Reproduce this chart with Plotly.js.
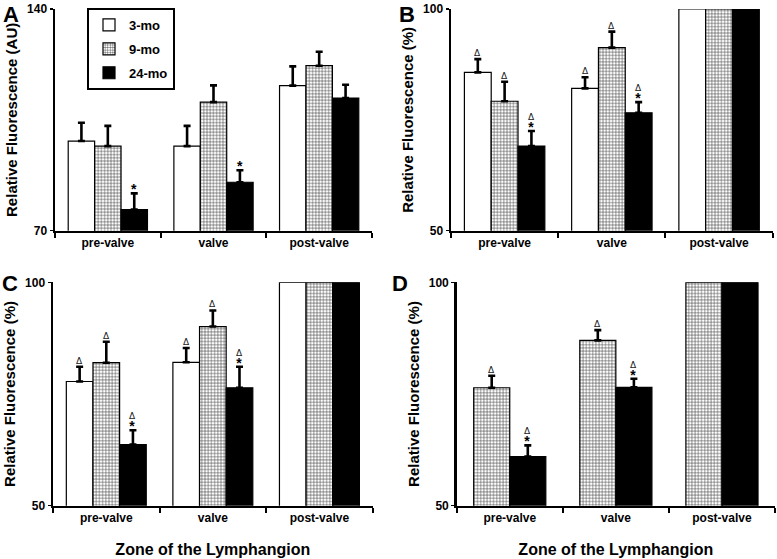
<!DOCTYPE html>
<html>
<head>
<meta charset="utf-8">
<script src="https://cdn.plot.ly/plotly-3.0.1.min.js"></script>
<style>html,body{margin:0;padding:0;background:#fff;}#chart{width:777px;height:559px;}</style>
</head>
<body>
<div id="chart"></div>
<script>
// ---------- data ----------
const zones = ['pre-valve', 'valve', 'post-valve'];
const ages = ['3-mo', '9-mo', '24-mo'];

// Panel A (AU)
const a3 = [98.3, 96.7, 115.8];
const a3err = [5.8, 6.4, 6.1];
const a9 = [96.7, 110.6, 122.1];
const a9err = [6.4, 5.3, 4.4];
const a24 = [76.7, 85.3, 111.9];
const a24err = [5.1, 3.8, 4.2];
const a3mark = ['', '', ''];
const a9mark = ['', '', ''];
const a24mark = ['*', '*', ''];

// Panel B (%)
const b3 = [85.7, 82.1, 100];
const b3err = [3.0, 2.5, null];
const b9 = [79.2, 91.3, 100];
const b9err = [4.4, 3.6, null];
const b24 = [69.1, 76.6, 100];
const b24err = [3.4, 2.4, null];
const b3mark = ['Δ', 'Δ', ''];
const b9mark = ['Δ', 'Δ', ''];
const b24mark = ['Δ*', 'Δ*', ''];

// Panel C (%)
const c3 = [77.8, 82.1, 100];
const c3err = [3.3, 3.2, null];
const c9 = [82.0, 90.1, 100];
const c9err = [4.7, 3.6, null];
const c24 = [63.7, 76.4, 100];
const c24err = [3.2, 4.7, null];
const c3mark = ['Δ', 'Δ', ''];
const c9mark = ['Δ', 'Δ', ''];
const c24mark = ['Δ*', 'Δ*', ''];

// Panel D (%)
const d9 = [76.4, 87.0, 100];
const d9err = [2.7, 2.3, null];
const d24 = [61.0, 76.5, 100];
const d24err = [2.5, 1.9, null];
const d9mark = ['Δ', 'Δ', ''];
const d24mark = ['Δ*', 'Δ*', ''];

// ---------- styles ----------
const FONT = 'Liberation Sans, Arial, sans-serif';
const DFONT = 'DejaVu Sans, sans-serif';
const outline = {color: 'black', width: 1.2};
const styles = {
  '3-mo': {color: 'white', line: outline},
  '9-mo': {color: 'white', line: outline,
           pattern: {shape: '+', size: 3.2, solidity: 0.3, fgcolor: '#3a3a3a', bgcolor: 'white', fillmode: 'replace'}},
  '24-mo': {color: 'black', line: outline}
};

const traces = [];
const annotations = [];

function addPanel(ax, series, showLegend) {
  const n = series.length;
  const w = n === 3 ? 0.25 : 0.34;
  const start = -w * n / 2;
  const sfx = ax === 1 ? '' : String(ax);
  series.forEach((s, k) => {
    const off = start + k * w;
    const errPlus = s.errs.map(v => (v === null ? NaN : v));
    const errMinus = s.errs.map(v => (v === null ? NaN : 0));
    traces.push({
      type: 'bar', name: s.name, x: zones, y: s.vals,
      xaxis: 'x' + sfx, yaxis: 'y' + sfx,
      offset: off, width: w,
      marker: styles[s.name],
      error_y: {type: 'data', symmetric: false, array: errPlus, arrayminus: errMinus,
                color: 'black', thickness: 2.6, width: 3.5},
      showlegend: showLegend, legendgroup: s.name,
      hoverinfo: 'skip'
    });
    s.marks.forEach((m, i) => {
      if (!m) return;
      const top = s.vals[i] + (s.errs[i] || 0);
      const xs = i + off + w / 2;
      const xref = 'x' + sfx, yref = 'y' + sfx;
      const hasStar = m.indexOf('*') >= 0;
      const hasDelta = m.indexOf('Δ') >= 0;
      if (hasStar && hasDelta) {
        annotations.push({x: xs, y: top, xref, yref, showarrow: false,
          text: 'Δ<br><span style="font-family:Liberation Sans, Arial, sans-serif;font-size:14px;font-weight:bold;color:black">*</span>',
          xanchor: 'center', yanchor: 'bottom', yshift: -6,
          font: {family: DFONT, size: 9, color: '#222'}});
      } else if (hasStar) {
        annotations.push({x: xs, y: top, xref, yref, text: '*', showarrow: false,
          xanchor: 'center', yanchor: 'bottom', yshift: -6,
          font: {family: FONT, size: 14, color: 'black', weight: 'bold'}});
      } else if (hasDelta) {
        annotations.push({x: xs, y: top, xref, yref, text: 'Δ', showarrow: false,
          xanchor: 'center', yanchor: 'bottom', yshift: -1,
          font: {family: DFONT, size: 9, color: '#222'}});
      }
    });
  });
}

addPanel(1, [
  {name: '3-mo', vals: a3, errs: a3err, marks: a3mark},
  {name: '9-mo', vals: a9, errs: a9err, marks: a9mark},
  {name: '24-mo', vals: a24, errs: a24err, marks: a24mark}], true);
addPanel(2, [
  {name: '3-mo', vals: b3, errs: b3err, marks: b3mark},
  {name: '9-mo', vals: b9, errs: b9err, marks: b9mark},
  {name: '24-mo', vals: b24, errs: b24err, marks: b24mark}], false);
addPanel(3, [
  {name: '3-mo', vals: c3, errs: c3err, marks: c3mark},
  {name: '9-mo', vals: c9, errs: c9err, marks: c9mark},
  {name: '24-mo', vals: c24, errs: c24err, marks: c24mark}], false);
addPanel(4, [
  {name: '9-mo', vals: d9, errs: d9err, marks: d9mark},
  {name: '24-mo', vals: d24, errs: d24err, marks: d24mark}], false);

// panel letters
[['A', 1, 0], ['B', 397, 0], ['C', 0, 269], ['D', 390, 269]].forEach(([t, px, py]) => {
  annotations.push({text: t, xref: 'paper', yref: 'paper', x: px / 777, y: 1 - py / 559,
    xanchor: 'left', yanchor: 'top', showarrow: false,
    font: {family: FONT, size: 22, color: 'black', weight: 'bold'}});
});

const W = 777, H = 559;
function xd(a, b) { return [a / W, b / W]; }
function yd(top, bot) { return [1 - bot / H, 1 - top / H]; }

function xaxis(domain, anchor, title) {
  const ax = {
    domain, anchor, type: 'category', categoryorder: 'array', categoryarray: zones,
    range: [-0.5, 2.5], showline: true, linecolor: 'black', linewidth: 2,
    ticks: 'outside', tickson: 'boundaries', ticklen: 5, tickwidth: 2, tickcolor: 'black',
    showgrid: false, zeroline: false, automargin: false, fixedrange: true,
    tickfont: {family: FONT, size: 12, color: 'black', weight: 'bold'}
  };
  if (title) ax.title = {text: title, standoff: 20, font: {family: FONT, size: 16, color: 'black', weight: 'bold'}};
  return ax;
}
function yaxis(domain, anchor, range, title) {
  return {
    domain, anchor, range, tickvals: range, ticktext: range.map(String),
    showline: true, linecolor: 'black', linewidth: 2.5,
    ticks: 'outside', ticklen: 3, tickwidth: 1.5, tickcolor: 'black',
    showgrid: false, zeroline: false, automargin: false, fixedrange: true,
    tickfont: {family: FONT, size: 12, color: 'black', weight: 'bold'},
    title: {text: title, standoff: 6, font: {family: FONT, size: 15, color: 'black', weight: 'bold'}}
  };
}

const layout = {
  width: W, height: H, margin: {l: 0, r: 0, t: 0, b: 0},
  paper_bgcolor: 'white', plot_bgcolor: 'white',
  barmode: 'overlay', showlegend: true,
  xaxis: xaxis(xd(55, 372), 'y'),
  yaxis: yaxis(yd(9, 230.7), 'x', [70, 140], 'Relative Fluorescence (AU)'),
  xaxis2: xaxis(xd(451, 772.7), 'y2'),
  yaxis2: yaxis(yd(9, 230.7), 'x2', [50, 100], 'Relative Fluorescence (%)'),
  xaxis3: xaxis(xd(53, 372.7), 'y3', 'Zone of the Lymphangion'),
  yaxis3: yaxis(yd(282.3, 505.7), 'x3', [50, 100], 'Relative Fluorescence (%)'),
  xaxis4: xaxis(xd(456.7, 775), 'y4', 'Zone of the Lymphangion'),
  yaxis4: yaxis(yd(282.3, 505.7), 'x4', [50, 100], 'Relative Fluorescence (%)'),
  legend: {x: 87 / W, y: 1 - 8 / H, xanchor: 'left', yanchor: 'top',
    bgcolor: 'white', bordercolor: 'black', borderwidth: 2,
    font: {family: FONT, size: 13, color: 'black', weight: 'bold'},
    traceorder: 'grouped', tracegroupgap: 4, itemwidth: 30},
  annotations
};

Plotly.newPlot('chart', traces, layout, {displayModeBar: false, staticPlot: true});
</script>
</body>
</html>
